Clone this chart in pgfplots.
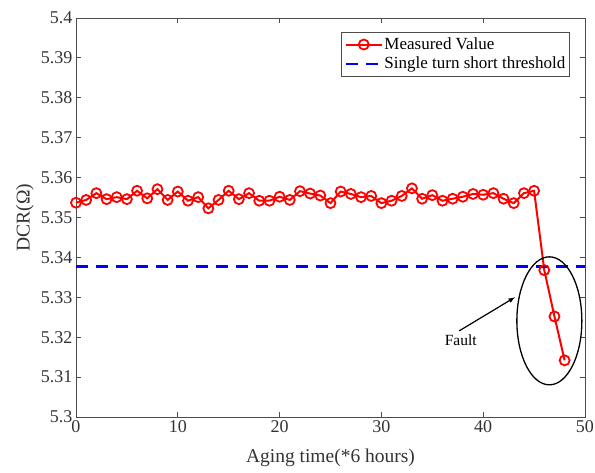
\documentclass[border=0pt]{standalone}
\usepackage{fontspec}
\setmainfont{Liberation Serif}
\usepackage{pgfplots}
\pgfplotsset{compat=1.18}
\begin{document}
\begin{tikzpicture}[x=1pt,y=1pt]
\useasboundingbox (-76,-56) rectangle (519,417);
\begin{axis}[
  at={(0,0)}, anchor=south west,
  scale only axis, width=509pt, height=399pt,
  xmin=0, xmax=50, ymin=5.3, ymax=5.4,
  xtick={0,10,...,50},
  ytick={5.3,5.31,5.32,5.33,5.34,5.35,5.36,5.37,5.38,5.39,5.4},
  yticklabels={5.3,5.31,5.32,5.33,5.34,5.35,5.36,5.37,5.38,5.39,5.4},
  /pgf/number format/assume math mode=true,
  tick align=inside, tick pos=both,
  major tick length=5pt,
  axis line style={draw=black!70, line width=0.9pt},
  every tick/.style={draw=black!70, line width=0.9pt},
  tick label style={font=\fontsize{18}{20}\selectfont, text=black!80},
  xlabel={Aging time(*6 hours)},
  ylabel={DCR(Ω)},
  label style={font=\fontsize{19.5}{22}\selectfont, text=black!80},
  xlabel style={at={(axis description cs:0.5,0)}, anchor=center, yshift=-41pt},
  ylabel style={at={(axis description cs:0,0.5)}, anchor=center, yshift=51pt},
  legend style={at={(rel axis cs:0.971,0.965)}, anchor=north east,
    draw=black!70, line width=0.8pt, fill=white,
    font=\fontsize{17}{19}\selectfont, inner xsep=3pt, inner ysep=4pt,
    row sep=3pt, legend cell align=left,
    nodes={inner xsep=1.5pt, inner ysep=1.5pt}},
  legend image code/.code={
    \draw[#1] (0pt,0pt) -- (36pt,0pt);
    \draw[#1, only marks] plot coordinates {(18pt,0pt)};
  },
  clip=false,
]
\addplot[red, line width=2pt, mark=o, mark size=5pt,
  mark options={line width=1.8pt, solid}] coordinates {
(0,5.3537) (1,5.3544) (2,5.3561) (3,5.3546) (4,5.3551) (5,5.3546)
(6,5.3567) (7,5.3548) (8,5.3571) (9,5.3544) (10,5.3565) (11,5.3542)
(12,5.3551) (13,5.3523) (14,5.3544) (15,5.3567) (16,5.3546) (17,5.3561)
(18,5.3542) (19,5.3542) (20,5.3552) (21,5.3544) (22,5.3566) (23,5.3560)
(24,5.3555) (25,5.3536) (26,5.3565) (27,5.3559) (28,5.3551) (29,5.3554)
(30,5.3536) (31,5.3542) (32,5.3554) (33,5.3573) (34,5.3547) (35,5.3556)
(36,5.3542) (37,5.3547) (38,5.3552) (39,5.3559) (40,5.3557) (41,5.3561)
(42,5.3547) (43,5.3536) (44,5.3561) (45,5.3567) (46,5.3368) (47,5.3252)
(48,5.3142)
};
\addlegendentry{Measured Value}
\addplot[blue, line width=2.4pt, dash pattern=on 12pt off 8pt] coordinates {(0,5.3377) (50,5.3377)};
\addlegendentry{Single turn short threshold}
\draw[black, line width=1.3pt] (axis cs:46.5,5.3241) ellipse [x radius=32.5pt, y radius=64pt];
\draw[black, line width=1.2pt, -latex] (axis cs:37.65,5.3216) -- (axis cs:43.12,5.3300);
\node[font=\fontsize{15.5}{17}\selectfont, anchor=center, inner sep=0pt] at (axis cs:37.8,5.3193) {Fault};
\end{axis}
\end{tikzpicture}
\end{document}
